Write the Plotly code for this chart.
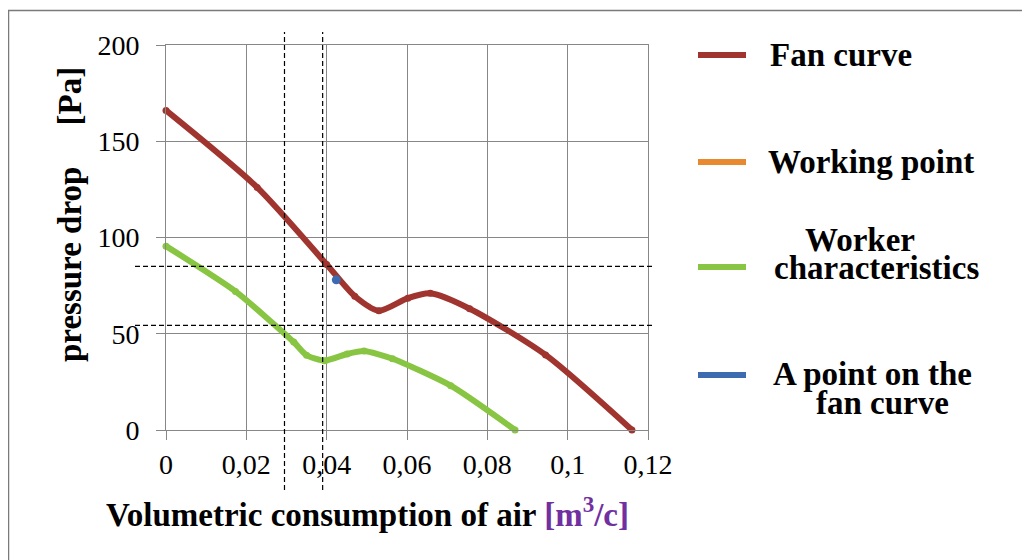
import plotly.graph_objects as go

# ---- data ----
fan_x = [0, 0.0227, 0.040, 0.047, 0.053, 0.0602, 0.0658, 0.0756, 0.0945, 0.116]
fan_y = [166, 126, 86, 69.5, 62, 68.5, 71, 63, 39, 0]

work_x = [0.0318]
work_y = [45.7]

worker_x = [0, 0.0173, 0.0318, 0.0350, 0.0395, 0.0451, 0.0493, 0.0564, 0.0709, 0.0869]
worker_y = [95.5, 72, 45.7, 38.8, 36, 39.5, 41, 37, 23, 0]

point_x = [0.0424]
point_y = [78]

ref_x = [0.0295, 0.039]   # vertical dashed guides
ref_y = [85, 54.3]        # horizontal dashed guides

x_ticks = [0, 0.02, 0.04, 0.06, 0.08, 0.10, 0.12]
x_tick_labels = ["0", "0,02", "0,04", "0,06", "0,08", "0,1", "0,12"]
y_ticks = [0, 50, 100, 150, 200]
y_tick_labels = ["0", "50", "100", "150", "200"]

legend_names = ["Fan curve", "Working point", "Worker characteristics", "A point on the fan curve"]

RED = "#A0342E"
ORANGE = "#E8892F"
GREEN = "#88C542"
BLUE = "#3D6BB0"
GRID = "#878787"
FONT = "Liberation Serif"

OFF = 8                     # page body margin
W, H = 1030 - OFF, 560 - OFF
L, T = 166 - OFF, 45 - OFF
R = W - (648 - OFF)
B = H - (430 - OFF)
PW = W - L - R
PH = H - T - B


def px(xp):
    """screen x pixel -> paper"""
    return (xp - OFF - L) / PW


def py(yp):
    """screen y pixel -> paper"""
    return (H - B - (yp - OFF)) / PH


fig = go.Figure()
fig.add_trace(go.Scatter(x=fan_x, y=fan_y, mode="lines+markers", name=legend_names[0],
                         line=dict(color=RED, width=6, shape="spline", smoothing=0.7),
                         marker=dict(color=RED, size=7), cliponaxis=False))
fig.add_trace(go.Scatter(x=work_x, y=work_y, mode="markers", name=legend_names[1],
                         marker=dict(color=ORANGE, size=6), cliponaxis=False))
fig.add_trace(go.Scatter(x=worker_x, y=worker_y, mode="lines+markers", name=legend_names[2],
                         line=dict(color=GREEN, width=6, shape="spline", smoothing=0.6),
                         marker=dict(color=GREEN, size=7), cliponaxis=False))
fig.add_trace(go.Scatter(x=point_x, y=point_y, mode="markers", name=legend_names[3],
                         marker=dict(color=BLUE, size=9), cliponaxis=False))

shapes = []
# dashed guide lines
for xv in ref_x:
    shapes.append(dict(type="line", xref="x", yref="paper", x0=xv, x1=xv,
                       y0=py(490), y1=py(32),
                       line=dict(color="black", width=1.2, dash="5px,3px")))
for yv in ref_y:
    shapes.append(dict(type="line", xref="paper", yref="y", x0=px(135), x1=px(654),
                       y0=yv, y1=yv,
                       line=dict(color="black", width=1.2, dash="5px,3px")))
# outer frame (top and left)
shapes.append(dict(type="path", xref="paper", yref="paper",
                   path=f"M {px(8.5)} {py(562)} L {px(8.5)} {py(10.5)} L {px(1032)} {py(10.5)}",
                   line=dict(color="#7a7a7a", width=1.5)))

# manual legend
leg_colors = [RED, ORANGE, GREEN, BLUE]
leg_y = [55, 162, 267, 375]
for c, yy in zip(leg_colors, leg_y):
    shapes.append(dict(type="line", xref="paper", yref="paper", x0=px(698), x1=px(746),
                       y0=py(yy), y1=py(yy), line=dict(color=c, width=6)))

annotations = []
leg_text = [("Fan curve", 768, 55, "left"),
            ("Working point", 766, 162, "left"),
            ("Worker", 860, 240, "center"),
            ("characteristics", 876, 268, "center"),
            ("A point on the", 872, 374, "center"),
            ("fan curve", 882, 403, "center")]
for t, xx, yy, anc in leg_text:
    annotations.append(dict(text=f"<b>{t}</b>", xref="paper", yref="paper", x=px(xx), y=py(yy),
                            xanchor=anc, yanchor="middle", showarrow=False,
                            font=dict(family=FONT, size=33, color="black")))

# axis titles
annotations.append(dict(
    text="<b>Volumetric consumption of air <span style='color:#7030A0'>[m<sup>3</sup>/c]</span></b>",
    xref="paper", yref="paper", x=px(367), y=py(512), xanchor="center", yanchor="middle",
    showarrow=False, font=dict(family=FONT, size=33, color="black")))
annotations.append(dict(
    text="<b>pressure drop" + "\u00a0" * 5 + "[Pa]</b>",
    xref="paper", yref="paper", x=px(70), y=py(215), xanchor="center", yanchor="middle",
    textangle=-90, showarrow=False, font=dict(family=FONT, size=33, color="black")))

fig.update_layout(
    width=W, height=H,
    margin=dict(l=L, r=R, t=T, b=B, pad=0),
    paper_bgcolor="white", plot_bgcolor="white",
    showlegend=False,
    shapes=shapes, annotations=annotations,
    font=dict(family=FONT, size=28, color="black"),
)
fig.update_xaxes(range=[0, 0.12], tickvals=x_ticks, ticktext=x_tick_labels,
                 showgrid=True, gridcolor=GRID, gridwidth=1,
                 showline=True, linecolor=GRID, linewidth=1, mirror=True,
                 ticks="outside", ticklen=9, tickcolor=GRID, ticklabelstandoff=0,
                 zeroline=False, tickfont=dict(family=FONT, size=28, color="black"))
fig.update_yaxes(range=[0, 200], tickvals=y_ticks, ticktext=y_tick_labels,
                 showgrid=True, gridcolor=GRID, gridwidth=1,
                 showline=True, linecolor=GRID, linewidth=1, mirror=True,
                 ticks="outside", ticklen=9, tickcolor=GRID, ticklabelstandoff=11,
                 zeroline=False, tickfont=dict(family=FONT, size=28, color="black"))

fig.write_html("out.html")
